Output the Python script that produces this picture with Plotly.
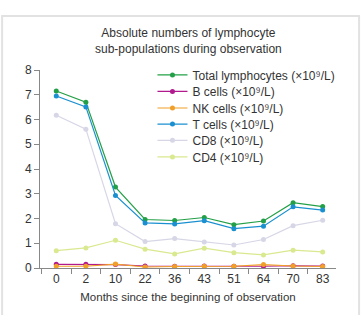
import plotly.graph_objects as go

months = ["0", "2", "10", "22", "36", "43", "51", "64", "70", "83"]
total = [7.15, 6.70, 3.27, 1.96, 1.92, 2.04, 1.75, 1.90, 2.64, 2.48]
bcells = [0.15, 0.15, 0.14, 0.08, 0.07, 0.08, 0.07, 0.07, 0.09, 0.08]
nkcells = [0.07, 0.07, 0.16, 0.04, 0.06, 0.07, 0.07, 0.14, 0.08, 0.06]
tcells = [6.95, 6.51, 2.93, 1.82, 1.78, 1.91, 1.59, 1.69, 2.47, 2.34]
cd8 = [6.17, 5.61, 1.79, 1.07, 1.19, 1.05, 0.93, 1.15, 1.71, 1.93]
cd4 = [0.70, 0.81, 1.12, 0.76, 0.57, 0.80, 0.62, 0.53, 0.72, 0.65]

unit = " (\u00d710\u2079/L)"
series = [
    ("Total lymphocytes", total, "#23a047"),
    ("B cells", bcells, "#b01a8e"),
    ("NK cells", nkcells, "#f0a028"),
    ("T cells", tcells, "#1a90d0"),
    ("CD8", cd8, "#d6d6e6"),
    ("CD4", cd4, "#d9e98f"),
]
legend_rows = [0.975, 0.892, 0.808, 0.727, 0.645, 0.561]

fig = go.Figure()
layout_legends = {}
for i, (name, vals, col) in enumerate(series):
    lg = "legend" if i == 0 else f"legend{i + 1}"
    fig.add_trace(go.Scatter(
        x=months, y=vals, mode="lines+markers", name=name + unit,
        line=dict(color=col, width=1.2), marker=dict(color=col, size=5),
        legend=lg,
    ))
    layout_legends[lg] = dict(x=0.38, y=legend_rows[i], xanchor="left", yanchor="middle",
                              bgcolor="rgba(0,0,0,0)", font=dict(size=12, color="#333"),
                              itemwidth=30)

fig.update_layout(
    width=361, height=315,
    margin=dict(l=40, r=25, t=70, b=47),
    paper_bgcolor="white", plot_bgcolor="white",
    font=dict(family="Liberation Sans, Arial, sans-serif", size=11, color="#333"),
    showlegend=True,
    xaxis=dict(type="category", range=[-0.55, 9.45], showline=True, linecolor="#888",
               linewidth=1, ticks="outside", tickson="boundaries", ticklen=5,
               tickcolor="#888", showgrid=False, zeroline=False,
               title=dict(text="Months since the beginning of observation",
                          font=dict(size=11.5, color="#333"), standoff=7),
               tickfont=dict(size=12)),
    yaxis=dict(range=[0, 8], dtick=1, showline=True, linecolor="#888", linewidth=1,
               ticks="outside", ticklen=5, tickcolor="#888", showgrid=False,
               zeroline=False, tickfont=dict(size=12)),
    annotations=[dict(text="Absolute numbers of lymphocyte<br>sub-populations during observation",
                      x=0.5, y=1.144, xref="paper", yref="paper", showarrow=False,
                      xanchor="center", yanchor="middle",
                      font=dict(size=12, color="#333"))],
    shapes=[dict(type="rect", xref="paper", yref="paper",
                 x0=-0.128, x1=1.078, y0=-0.4, y1=1.273,
                 line=dict(color="#e2e2e2", width=2), fillcolor="rgba(0,0,0,0)",
                 layer="below")],
    **layout_legends,
)

fig.write_html("out.html")
